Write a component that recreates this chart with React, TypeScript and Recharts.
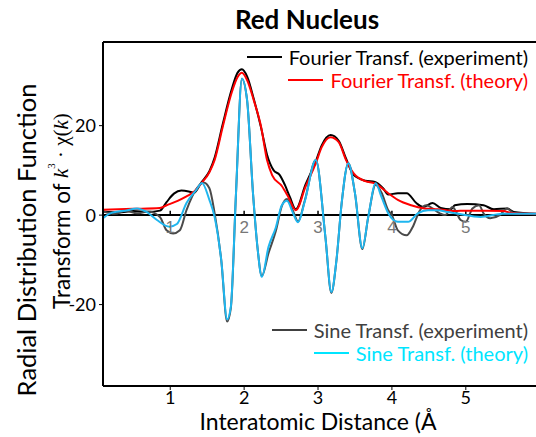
import { LineChart, Line, XAxis, YAxis, ReferenceLine, ReferenceDot } from 'recharts';

// Fourier transform, experiment (black)
const fourierExpX = [0.09, 0.3, 0.5, 0.7, 0.86, 0.95, 1.05, 1.15, 1.25, 1.32, 1.42, 1.53, 1.6, 1.71, 1.83, 1.91, 1.97, 2.04, 2.13, 2.23, 2.31, 2.4, 2.48, 2.55, 2.62, 2.7, 2.83, 2.97, 3.05, 3.17, 3.28, 3.38, 3.48, 3.64, 3.77, 3.88, 3.95, 4.08, 4.2, 4.33, 4.42, 4.55, 4.66, 4.8, 4.85, 5.02, 5.24, 5.38, 5.56, 5.65, 5.95];
const fourierExpY = [0.8, 0.6, 0.9, 0.7, 1.0, 2.9, 4.8, 5.5, 5.3, 5.0, 7.3, 9.8, 12.8, 20.3, 28.0, 31.8, 32.6, 31.0, 26.0, 19.5, 13.5, 10.0, 9.0, 6.8, 4.0, 1.3, 6.8, 12.0, 15.6, 17.9, 16.6, 12.6, 9.0, 7.7, 7.4, 6.0, 4.6, 4.9, 4.9, 2.7, 1.8, 2.7, 1.6, 1.3, 2.2, 2.5, 2.2, 1.3, 1.5, 0.7, 0.3];

// Fourier transform, theory (red)
const fourierThX = [0.09, 0.5, 0.86, 0.95, 1.1, 1.22, 1.32, 1.42, 1.53, 1.6, 1.71, 1.83, 1.91, 1.97, 2.04, 2.13, 2.23, 2.31, 2.38, 2.51, 2.6, 2.7, 2.83, 2.97, 3.05, 3.17, 3.28, 3.38, 3.48, 3.64, 3.77, 3.81, 3.95, 4.08, 4.26, 4.44, 4.62, 4.85, 5.0, 5.3, 5.5, 5.65, 5.95];
const fourierThY = [1.2, 1.4, 1.6, 2.2, 3.2, 4.2, 5.2, 7.1, 9.6, 12.3, 19.7, 27.3, 30.8, 31.8, 30.2, 25.7, 19.7, 12.3, 8.9, 6.5, 4.0, 1.1, 6.3, 11.6, 15.2, 17.4, 16.3, 12.3, 9.4, 7.6, 7.1, 6.7, 4.9, 3.4, 2.2, 1.5, 1.3, 0.9, 1.0, 1.0, 0.9, 0.4, 0.3];

// Sine transform, experiment (grey)
const sineExpX = [0.09, 0.25, 0.4, 0.55, 0.7, 0.86, 0.95, 1.04, 1.13, 1.22, 1.36, 1.45, 1.53, 1.6, 1.69, 1.77, 1.82, 1.89, 1.97, 2.04, 2.12, 2.18, 2.24, 2.33, 2.43, 2.51, 2.58, 2.66, 2.73, 2.82, 2.97, 3.1, 3.18, 3.25, 3.32, 3.41, 3.5, 3.6, 3.68, 3.78, 3.86, 3.95, 4.0, 4.08, 4.2, 4.28, 4.38, 4.47, 4.55, 4.65, 4.72, 4.82, 4.87, 4.93, 5.0, 5.09, 5.18, 5.24, 5.33, 5.46, 5.56, 5.65, 5.95];
const sineExpY = [0.9, 0.3, 1.0, 0.4, 0.8, -0.4, -3.4, -4.1, -3.4, 1.1, 6.0, 7.3, 6.0, 0.5, -10, -23.8, -20.8, 4.9, 30.5, 25.7, 4.9, -7.1, -13.6, -8.5, -3.5, 2.0, 3.6, 1.0, -1.4, 3.2, 12.3, -4.9, -17.4, -10, 2.7, 11.6, 4.9, -7.6, -0.4, 6.8, 5.0, 1.1, 0, -3.4, -4.5, -2.7, 1.1, 2.2, 1.5, 0.4, 0, 1.8, 0.7, -1.1, -1.5, 1.5, 2.2, 0.4, -0.7, 0, 1.5, 0.4, 0.2];

// Sine transform, theory (cyan)
const sineThX = [0.09, 0.19, 0.42, 0.55, 0.68, 0.82, 0.99, 1.09, 1.22, 1.35, 1.43, 1.53, 1.6, 1.69, 1.77, 1.82, 1.89, 1.97, 2.04, 2.12, 2.18, 2.24, 2.33, 2.43, 2.51, 2.58, 2.66, 2.73, 2.82, 2.97, 3.1, 3.18, 3.25, 3.32, 3.41, 3.5, 3.6, 3.68, 3.78, 3.86, 3.95, 4.08, 4.22, 4.35, 4.49, 4.62, 4.75, 4.9, 5.2, 5.5, 5.95];
const sineThY = [-0.7, 0.4, 1.1, 1.5, 0.7, -1.1, -2.6, -2.0, 2.7, 5.6, 7.2, 3.4, -0.4, -10, -23.3, -20.5, 4.9, 30.5, 25.7, 4.9, -7.1, -13.8, -7.1, -2.7, 2.2, 3.2, 0.5, -1.6, 3.0, 12.3, -4.9, -17.2, -10, 2.7, 11.6, 4.9, -7.4, -0.4, 7.1, 4.0, 0.4, -1.5, -1.5, 0.4, 1.1, 1.1, 0.7, 0.3, -0.4, 0.3, 0.3];

const xTicks = [1, 2, 3, 4, 5];
const yTicks = [-20, 0, 20];

const toPoints = (xs: number[], ys: number[]) => xs.map((x, i) => ({ x, y: ys[i] }));

// Lato is the closest installed match to the Calibri look of the original
const font = 'Lato, sans-serif';
const xMin = 0.09;
const xMax = 5.95;
const yMin = -38.2;
const yMax = 38.7;

function LegendRow({ top, color, text }: { top: number; color: string; text: string }) {
  return (
    <div
      style={{
        position: 'absolute',
        right: 8,
        top,
        display: 'flex',
        alignItems: 'center',
        fontFamily: font,
        fontSize: 20,
        lineHeight: '20px',
        color,
        whiteSpace: 'nowrap',
      }}
    >
      <div style={{ width: 35, height: 2, background: color, marginRight: 7 }} />
      <span>{text}</span>
    </div>
  );
}

const YLabel = () => (
  <g fontFamily={font} fill="#000">
    <text x={26} y={240} transform="rotate(-90 26 240)" textAnchor="middle" dominantBaseline="central" fontSize={25.5}>
      Radial Distribution Function
    </text>
    <text x={61} y={211} transform="rotate(-90 61 211)" textAnchor="middle" dominantBaseline="central" fontSize={22.5}>
      Transform of{'  '}
      <tspan fontFamily="Liberation Serif" fontStyle="italic" fontSize={21}>k</tspan>
      <tspan fontFamily="Liberation Serif" fontSize={11} dy={-10}>3</tspan>
      <tspan fontFamily="Liberation Serif" fontSize={21} dy={10}> · χ(</tspan>
      <tspan fontFamily="Liberation Serif" fontStyle="italic" fontSize={21}>k</tspan>
      <tspan fontFamily="Liberation Serif" fontSize={21}>)</tspan>
    </text>
  </g>
);

const XLabel = () => (
  <text x={318} y={421} textAnchor="middle" dominantBaseline="central" fontFamily={font} fontSize={23} fill="#000">
    Interatomic Distance  (Å
  </text>
);

export default function App() {
  return (
    <div style={{ position: 'absolute', left: 0, top: 0, width: 536, height: 437, background: '#fff' }}>
      <div
        style={{
          position: 'absolute',
          left: 0,
          width: 614,
          top: 3,
          textAlign: 'center',
          fontFamily: font,
          fontWeight: 700,
          fontSize: 26,
        }}
      >
        Red Nucleus
      </div>
      <LineChart width={536} height={437} data={[]} margin={{ top: 42, right: 0, bottom: 0, left: 0 }}>
        <XAxis
          type="number"
          dataKey="x"
          domain={[xMin, xMax]}
          ticks={xTicks}
          allowDataOverflow
          height={51}
          axisLine={{ stroke: '#000', strokeWidth: 2 }}
          tickLine={{ stroke: '#000' }}
          tickSize={4}
          tickMargin={1}
          tick={{ fill: '#000', fontSize: 18, fontFamily: font }}
          label={{ content: () => <XLabel /> }}
        />
        <YAxis
          type="number"
          domain={[yMin, yMax]}
          ticks={yTicks}
          allowDataOverflow
          width={103}
          axisLine={{ stroke: '#000', strokeWidth: 2 }}
          tickLine={{ stroke: '#000' }}
          tickSize={4}
          tickMargin={3}
          tick={{ fill: '#000', fontSize: 18, fontFamily: font }}
          label={{ content: () => <YLabel /> }}
        />
        <ReferenceLine y={yMax} stroke="#000" strokeWidth={2} />
        <ReferenceLine y={0} stroke="#000" strokeWidth={2} />
        {xTicks.map((t) => (
          <ReferenceLine key={`it-${t}`} segment={[{ x: t, y: 0 }, { x: t, y: 1 }]} stroke="#000" strokeWidth={1.5} />
        ))}
        {xTicks.map((t) => (
          <ReferenceDot
            key={`il-${t}`}
            x={t}
            y={0}
            r={0}
            stroke="none"
            label={{ value: String(t), position: 'bottom', offset: 6, fill: '#777', fontSize: 17, fontFamily: 'Liberation Sans' }}
          />
        ))}
        <Line data={toPoints(fourierExpX, fourierExpY)} dataKey="y" type="monotone" stroke="#000" strokeWidth={2} dot={false} isAnimationActive={false} />
        <Line data={toPoints(sineExpX, sineExpY)} dataKey="y" type="monotone" stroke="#4a4a4a" strokeWidth={2} dot={false} isAnimationActive={false} />
        <Line data={toPoints(fourierThX, fourierThY)} dataKey="y" type="monotone" stroke="#ff0000" strokeWidth={2} dot={false} isAnimationActive={false} />
        <Line data={toPoints(sineThX, sineThY)} dataKey="y" type="monotone" stroke="#1fb6ef" strokeWidth={2} dot={false} isAnimationActive={false} />
      </LineChart>
      <LegendRow top={47} color="#000" text="Fourier Transf. (experiment)" />
      <LegendRow top={70} color="#ff0000" text="Fourier Transf. (theory)" />
      <LegendRow top={320} color="#404040" text="Sine Transf. (experiment)" />
      <LegendRow top={343} color="#00e5ff" text="Sine Transf. (theory)" />
    </div>
  );
}
